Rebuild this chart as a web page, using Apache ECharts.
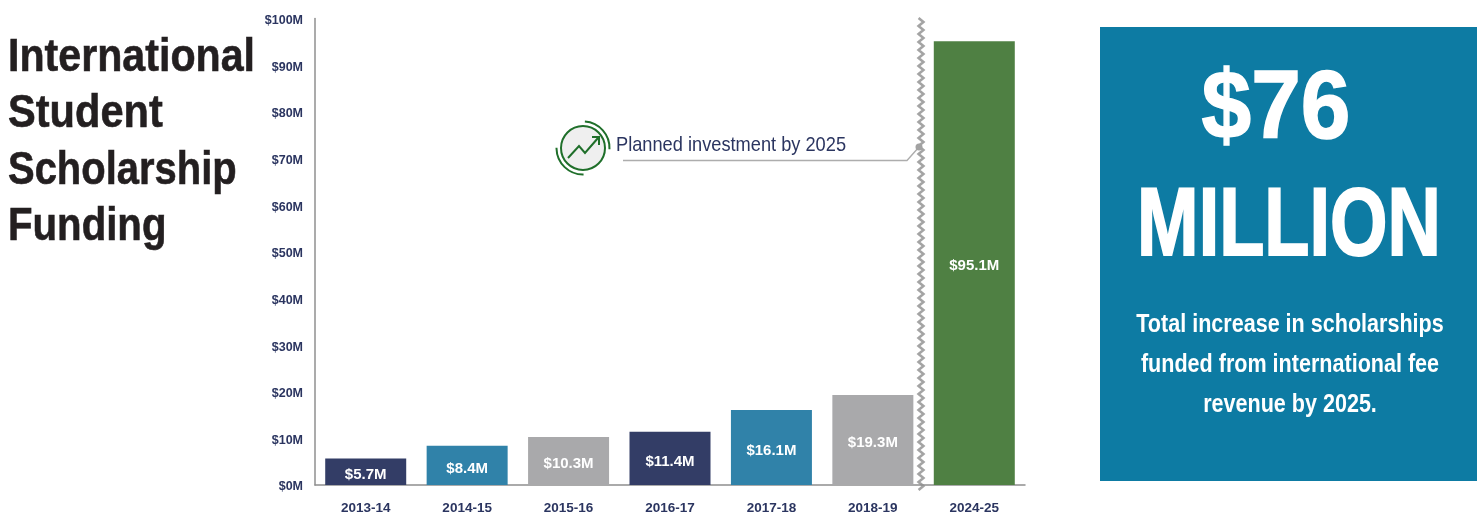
<!DOCTYPE html>
<html><head><meta charset="utf-8">
<style>html,body{margin:0;padding:0;background:#fff}#c{width:1481px;height:516px}</style>
<script src="https://cdn.jsdelivr.net/npm/echarts@6/dist/echarts.min.js"></script>
</head><body><div id="c"></div>
<script>
const categories = ['2013-14','2014-15','2015-16','2016-17','2017-18','2018-19','2024-25'];
const funding = [5.7,8.4,10.3,11.4,16.1,19.3,95.1];
const fundingLabels = ['$5.7M','$8.4M','$10.3M','$11.4M','$16.1M','$19.3M','$95.1M'];
const barColors = ['#333d66','#3082a9','#a9a9ab','#333d66','#3082a9','#a9a9ab','#4f8043'];
const titleLines = ['International','Student','Scholarship','Funding'];
const boxLines = ['Total increase in scholarships','funded from international fee','revenue by 2025.'];
const FONT = '"Liberation Sans",sans-serif';
const NAVY = '#2b3560';

const chart = echarts.init(document.getElementById('c'), null, {renderer:'canvas'});

function zigzag(x, y1, y2){
  const pts = []; let s = 0;
  for (let y = y1; y <= y2; y += 4){ pts.push([x + (s % 2 ? 2.4 : -2.4), y]); s++; }
  return pts;
}
const txt = (x,y,text,font,fill,align,sx,bold) => ({type:'text',x,y,scaleX:sx||1,style:{text,font,fill,textAlign:align||'left',textVerticalAlign:'middle',stroke:bold?fill:null,lineWidth:bold||0}});

const titleScale = [0.876,0.885,0.85,0.855];
const graphics = [
  ...titleLines.map((t,i)=>txt(8,[58,114,171,227][i],t,'bold 47px '+FONT,'#231f20','left',titleScale[i],0.6)),
  {type:'rect',shape:{x:1100,y:27,width:377,height:454},style:{fill:'#0d7ba3'}},
  txt(1276,112,'$76','bold 96px '+FONT,'#fff','center',0.93,1.5),
  txt(1289,229,'MILLION','bold 96px '+FONT,'#fff','center',0.77,2),
  ...boxLines.map((t,i)=>txt(1290,[325,365,405][i],t,'bold 25px '+FONT,'#fff','center',0.862)),
  {type:'polyline',shape:{points:zigzag(921,18,492)},style:{stroke:'#a4a4a4',fill:'none',lineWidth:2.6}},
  {type:'polyline',shape:{points:[[623,160.5],[907,160.5],[919,147]]},style:{stroke:'#adadad',fill:'none',lineWidth:1.4}},
  {type:'circle',shape:{cx:919,cy:147,r:3.5},style:{fill:'#a2a2a2'}},
  {type:'circle',shape:{cx:583,cy:148,r:22},style:{fill:'#efefef',stroke:'#1f6f2a',lineWidth:2}},
  {type:'arc',shape:{cx:583,cy:148,r:26.5,startAngle:-1.5,endAngle:0.05,clockwise:true},style:{stroke:'#1f6f2a',fill:'none',lineWidth:2}},
  {type:'arc',shape:{cx:583,cy:148,r:26.5,startAngle:1.55,endAngle:3.15,clockwise:true},style:{stroke:'#1f6f2a',fill:'none',lineWidth:2}},
  {type:'polyline',shape:{points:[[568,158],[579,146],[585,153],[598,138]]},style:{stroke:'#1f6f2a',fill:'none',lineWidth:2}},
  {type:'polyline',shape:{points:[[592,137],[599,137],[599,145]]},style:{stroke:'#1f6f2a',fill:'none',lineWidth:2}},
  txt(616,145,'Planned investment by 2025','21px '+FONT,NAVY,'left',0.868)
];

chart.setOption({
  animation:false,
  grid:{left:315,right:456,top:18.5,bottom:31},
  xAxis:{type:'category',data:categories,
    axisLine:{lineStyle:{color:'#8f8f8f',width:1.5}},axisTick:{show:false},
    axisLabel:{color:NAVY,fontFamily:FONT,fontWeight:'bold',fontSize:13.5,margin:16}},
  yAxis:{type:'value',min:0,max:100,interval:10,
    axisLine:{show:true,lineStyle:{color:'#8f8f8f',width:1.5}},axisTick:{show:false},splitLine:{show:false},
    axisLabel:{margin:12,formatter:v=>'{a|$'+v+'M}',
      rich:{a:{color:NAVY,fontFamily:FONT,fontWeight:'bold',fontSize:12.5,padding:[4,0,0,0]}}}},
  series:[{type:'bar',barWidth:81,
    data:funding.map((v,i)=>({value:v,itemStyle:{color:barColors[i]}})),
    label:{show:true,position:'inside',offset:[0,3],color:'#fff',fontFamily:FONT,fontWeight:'bold',fontSize:15,
      formatter:p=>fundingLabels[p.dataIndex]}}],
  graphic:graphics
});
</script></body></html>
